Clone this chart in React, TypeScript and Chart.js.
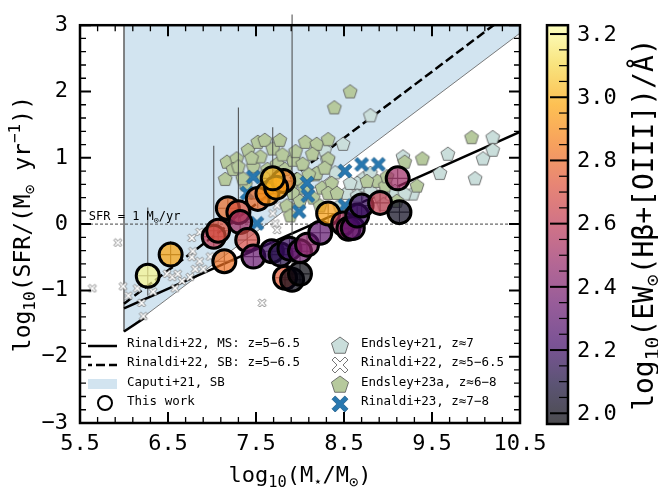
import React, { useEffect, useRef } from 'react';
import { Chart, registerables } from 'chart.js';
Chart.register(...registerables);

const FONT = "'DejaVu Sans Mono', monospace";

// ---------- axes / ticks ----------
const xTickValues = [5.5, 6.5, 7.5, 8.5, 9.5, 10.5];
const yTickValues = [-3, -2, -1, 0, 1, 2, 3];
const yTickLabels = ['−3', '−2', '−1', '0', '1', '2', '3'];
const cbTickValues = [2.0, 2.2, 2.4, 2.6, 2.8, 3.0, 3.2];
const cbTickLabels = ['2.0', '2.2', '2.4', '2.6', '2.8', '3.0', '3.2'];
const cbMin = 1.966;
const cbMax = 3.228;

// ---------- relations ----------
const msLineX = [6.0, 10.5];
const msLineY = [-1.27, 1.39];
const sbLineX = [6.0, 10.5];
const sbLineY = [-1.2, 3.3];
const sbStubX = [6.0, 6.25];
const sbStubY = [-1.62, -1.4];
const caputiX = [6.0, 6.0, 10.5];
const caputiY = [3.5, -1.62, 2.88];
const sfrOneX = [5.5, 10.5];
const sfrOneY = [0, 0];

// ---------- Endsley+21 (pale pentagons) ----------
const paleX = [8.80, 8.49, 8.28, 8.31, 9.17, 9.68, 9.59, 10.19, 10.19, 10.08, 9.99, 9.28, 8.72, 8.80, 8.68, 8.53, 8.65, 8.80, 8.65, 8.91, 9.08, 9.19, 8.45, 8.57, 8.95, 8.40];
const paleY = [1.64, 1.21, 1.12, 0.97, 1.02, 1.06, 0.77, 1.31, 1.12, 0.99, 0.69, 0.46, 0.69, 0.77, 0.58, 0.47, 0.62, 0.50, 0.43, 0.43, 0.50, 0.46, 0.28, 0.62, 0.30, 0.78];

// ---------- Rinaldi+22 (white crosses) ----------
const whiteX = [5.64, 5.93, 5.99, 6.05, 6.20, 6.22, 6.33, 6.15, 6.49, 6.55, 6.61, 6.66, 6.75, 6.81, 6.90, 6.58, 6.77, 6.86, 6.86, 6.78, 6.98, 7.57, 7.69, 7.72, 7.74, 7.74, 6.77];
const whiteY = [-0.97, -0.28, -0.94, -1.08, -1.19, -1.39, -1.02, -0.97, -0.75, -0.80, -0.75, -0.86, -0.80, -0.68, -0.68, -0.97, -0.50, -0.56, -0.12, -0.41, -0.49, -1.19, 0.16, 0.01, -0.09, 0.28, -0.21];

// ---------- Endsley+23a (green pentagons) ----------
const greenX = [7.17, 7.28, 7.24, 7.41, 7.52, 7.60, 7.69, 7.77, 7.47, 7.63, 7.74, 7.83, 7.92, 8.06, 8.19, 8.39, 8.14, 8.03, 8.17, 7.97, 7.89, 8.25, 7.38, 7.64, 7.85, 7.89, 7.35, 7.15, 7.30, 7.55, 8.32, 8.32, 8.19, 8.36, 8.32, 8.15, 7.92, 8.88, 8.97, 8.99, 9.39, 9.95, 9.33, 9.19, 8.42, 8.76, 8.00, 8.23, 9.10, 8.57, 7.95, 8.10, 7.80, 8.05, 8.28, 7.45, 7.58];
const greenY = [0.94, 0.99, 0.83, 1.12, 1.24, 1.27, 1.14, 1.27, 0.87, 0.83, 0.91, 0.83, 0.97, 1.24, 1.21, 1.76, 1.06, 0.91, 0.75, 0.68, 0.55, 0.55, 0.60, 0.55, 0.28, 0.13, 0.69, 0.68, 0.87, 1.02, 1.28, 0.99, 0.77, 0.62, 0.47, 0.40, 0.47, 0.65, 0.58, 0.72, 0.99, 1.31, 0.58, 0.94, 0.47, 0.65, 0.35, 0.28, 0.35, 2.0, 1.10, 0.75, 1.05, 0.55, 0.85, 1.00, 0.72];

// ---------- Rinaldi+23 (blue crosses) ----------
const blueX = [7.47, 7.40, 7.51, 8.08, 8.09, 7.99, 8.51, 8.70, 8.89, 8.51];
const blueY = [0.71, 0.47, 0.01, 0.62, 0.43, 0.19, 0.80, 0.90, 0.90, 0.28];

// ---------- This work ----------
const twX = [6.27, 6.53, 7.14, 7.02, 7.07, 7.18, 7.30, 7.32, 7.40, 7.47, 7.68, 7.78, 7.88, 8.00, 8.08, 8.23, 7.83, 7.91, 8.00, 7.52, 7.63, 7.81, 7.73, 7.69, 8.32, 8.49, 8.55, 8.60, 8.65, 8.70, 8.91, 9.11, 9.13];
const twY = [-0.78, -0.46, -0.56, -0.19, -0.10, 0.24, 0.18, 0.03, -0.24, -0.49, -0.41, -0.46, -0.37, -0.41, -0.31, -0.13, -0.81, -0.84, -0.75, 0.38, 0.46, 0.65, 0.55, 0.69, 0.16, 0.01, -0.07, -0.06, 0.13, 0.28, 0.32, 0.69, 0.18];
const twEW = [3.20, 2.97, 2.82, 2.60, 2.72, 2.80, 2.72, 2.50, 2.68, 2.33, 2.20, 2.12, 2.18, 2.35, 2.45, 2.30, 2.75, 2.00, 1.98, 2.80, 2.92, 2.85, 2.95, 3.02, 2.95, 2.55, 2.45, 2.30, 2.20, 2.18, 2.62, 2.50, 2.02];
const twXErr = [0.13, 0.13, 0.13, 0.13, 0.13, 0.13, 0.13, 0.13, 0.13, 0.13, 0.13, 0.13, 0.13, 0.13, 0.13, 0.13, 0.13, 0.13, 0.13, 0.13, 0.13, 0.13, 0.13, 0.13, 0.13, 0.13, 0.13, 0.13, 0.13, 0.13, 0.13, 0.13, 0.13];
const twYErrLo = [0.30, 0.20, 0.15, 0.15, 0.15, 0.15, 0.15, 0.15, 0.15, 0.15, 0.15, 0.15, 0.15, 0.15, 0.15, 0.15, 0.15, 0.15, 0.15, 0.15, 0.15, 0.15, 0.15, 0.15, 0.15, 0.15, 0.15, 0.15, 0.15, 0.15, 0.15, 0.15, 0.15];
const twYErrHi = [1.03, 0.20, 0.15, 1.37, 0.15, 0.15, 1.58, 0.15, 0.15, 0.15, 0.15, 0.15, 0.15, 0.15, 0.15, 0.15, 0.15, 4.00, 0.15, 0.15, 0.15, 0.15, 0.15, 0.77, 0.15, 0.15, 0.15, 0.15, 0.15, 0.15, 0.15, 0.15, 0.15];

const legendLeft = ['Rinaldi+22, MS: z=5−6.5', 'Rinaldi+22, SB: z=5−6.5', 'Caputi+21, SB', 'This work'];
const legendRight = ['Endsley+21, z≈7', 'Rinaldi+22, z≈5−6.5', 'Endsley+23a, z≈6−8', 'Rinaldi+23, z≈7−8'];

// ---------- colours ----------
const INFERNO = [[0, 0, 4], [22, 11, 57], [66, 10, 104], [106, 23, 110], [147, 38, 103], [188, 55, 84], [221, 81, 58], [243, 120, 25], [252, 165, 10], [246, 215, 70], [252, 255, 164]];
const CB_ALPHA = 0.7;
function inferno(t: number, a: number) {
  const c = Math.max(0, Math.min(1, t)) * 10;
  const i = Math.min(9, Math.floor(c));
  const f = c - i;
  const p = INFERNO[i], q = INFERNO[i + 1];
  const r = Math.round(p[0] + (q[0] - p[0]) * f);
  const g = Math.round(p[1] + (q[1] - p[1]) * f);
  const b = Math.round(p[2] + (q[2] - p[2]) * f);
  return `rgba(${r},${g},${b},${a})`;
}
const ewColor = (v: number) => inferno((v - cbMin) / (cbMax - cbMin), CB_ALPHA);

const PALE = 'rgb(202,222,219)';
const GREEN = 'rgb(182,201,157)';
const BLUE = 'rgb(40,120,176)';
const REGION = 'rgba(31,119,180,0.2)';
const REGION_EDGE = 'rgba(110,110,110,0.9)';

// ---------- marker helpers ----------
function pentPath(ctx: CanvasRenderingContext2D, cx: number, cy: number, r: number) {
  ctx.beginPath();
  for (let k = 0; k < 5; k++) {
    const a = -Math.PI / 2 + (k * 2 * Math.PI) / 5;
    const px = cx + r * Math.cos(a), py = cy + r * Math.sin(a);
    if (k === 0) ctx.moveTo(px, py); else ctx.lineTo(px, py);
  }
  ctx.closePath();
}
function xPath(ctx: CanvasRenderingContext2D, cx: number, cy: number, s: number, d: number) {
  const pts = [[-s, -s + d], [-s + d, -s], [0, -d], [s - d, -s], [s, -s + d], [d, 0], [s, s - d], [s - d, s], [0, d], [-s + d, s], [-s, s - d], [-d, 0]];
  ctx.beginPath();
  pts.forEach((p, i) => { if (i === 0) ctx.moveTo(cx + p[0], cy + p[1]); else ctx.lineTo(cx + p[0], cy + p[1]); });
  ctx.closePath();
}
function drawPent(ctx: CanvasRenderingContext2D, cx: number, cy: number, r: number, fill: string) {
  pentPath(ctx, cx, cy, r);
  ctx.fillStyle = fill; ctx.fill();
  ctx.lineWidth = 0.8; ctx.strokeStyle = '#555'; ctx.stroke();
}
function drawX(ctx: CanvasRenderingContext2D, cx: number, cy: number, s: number, d: number, fill: string, edge: string, lw: number) {
  xPath(ctx, cx, cy, s, d);
  ctx.fillStyle = fill; ctx.fill();
  ctx.lineWidth = lw; ctx.strokeStyle = edge; ctx.stroke();
}
function markerImage(size: number, draw: (ctx: CanvasRenderingContext2D, c: number) => void) {
  const cv = document.createElement('canvas');
  cv.width = size; cv.height = size;
  const ctx = cv.getContext('2d')!;
  draw(ctx, size / 2);
  return cv;
}

type Seg = { t: string; s?: number; dy?: number };
function drawRich(ctx: CanvasRenderingContext2D, segs: Seg[], size: number, x: number, y: number, align: 'left' | 'center') {
  ctx.textBaseline = 'alphabetic';
  ctx.textAlign = 'left';
  let total = 0;
  for (const sg of segs) { ctx.font = `${size * (sg.s || 1)}px ${FONT}`; total += ctx.measureText(sg.t).width; }
  let cx = align === 'center' ? x - total / 2 : x;
  for (const sg of segs) {
    ctx.font = `${size * (sg.s || 1)}px ${FONT}`;
    ctx.fillText(sg.t, cx, y + (sg.dy || 0) * size);
    cx += ctx.measureText(sg.t).width;
  }
}
const SUB = { s: 0.7, dy: 0.22 };
const SUP = { s: 0.7, dy: -0.42 };

const xy = (xs: number[], ys: number[]) => xs.map((x, i) => ({ x, y: ys[i] }));

const decor = {
  id: 'decor',
  beforeDatasetDraw(chart: any, args: any) {
    if (chart.data.datasets[args.index].label !== 'This work') return;
    const { ctx, scales: { x, y } } = chart;
    ctx.save();
    ctx.strokeStyle = 'rgba(70,70,70,0.9)';
    ctx.lineWidth = 1.1;
    for (let i = 0; i < twX.length; i++) {
      const px = x.getPixelForValue(twX[i]);
      const py = y.getPixelForValue(twY[i]);
      ctx.beginPath();
      ctx.moveTo(x.getPixelForValue(twX[i] - twXErr[i]), py);
      ctx.lineTo(x.getPixelForValue(twX[i] + twXErr[i]), py);
      ctx.moveTo(px, y.getPixelForValue(twY[i] - twYErrLo[i]));
      ctx.lineTo(px, y.getPixelForValue(twY[i] + twYErrHi[i]));
      ctx.stroke();
    }
    ctx.restore();
  },
  afterDatasetsDraw(chart: any) {
    const { ctx, chartArea: a, scales: { x, y } } = chart;
    ctx.save();
    ctx.fillStyle = '#000';
    drawRich(ctx, [{ t: 'SFR = 1 M' }, { t: '⊙', ...SUB }, { t: '/yr' }], 12, x.getPixelForValue(5.6), y.getPixelForValue(0) - 4, 'left');
    ctx.strokeStyle = '#000';
    ctx.lineCap = 'butt';
    for (let k = 0; k <= 25; k++) {
      const v = xTickValues[0] + k * 0.2;
      const major = k % 5 === 0;
      const px = x.getPixelForValue(v);
      const len = major ? 11 : 6;
      ctx.lineWidth = major ? 2 : 1.3;
      ctx.beginPath();
      ctx.moveTo(px, a.bottom); ctx.lineTo(px, a.bottom - len);
      ctx.moveTo(px, a.top); ctx.lineTo(px, a.top + len);
      ctx.stroke();
    }
    for (let k = 0; k <= 30; k++) {
      const v = yTickValues[0] + k * 0.2;
      const major = k % 5 === 0;
      const py = y.getPixelForValue(v);
      const len = major ? 11 : 6;
      ctx.lineWidth = major ? 2 : 1.3;
      ctx.beginPath();
      ctx.moveTo(a.left, py); ctx.lineTo(a.left + len, py);
      ctx.moveTo(a.right, py); ctx.lineTo(a.right - len, py);
      ctx.stroke();
    }
    ctx.lineWidth = 2.5;
    ctx.strokeRect(a.left, a.top, a.right - a.left, a.bottom - a.top);
    ctx.restore();
  },
  afterDraw(chart: any) {
    const { ctx, chartArea: a } = chart;
    ctx.save();
    ctx.fillStyle = '#000';
    drawRich(ctx, [{ t: 'log' }, { t: '10', ...SUB }, { t: '(M' }, { t: '⋆', ...SUB }, { t: '/M' }, { t: '⊙', ...SUB }, { t: ')' }], 22, (a.left + a.right) / 2, 482, 'center');
    ctx.save();
    ctx.translate(30, (a.top + a.bottom) / 2);
    ctx.rotate(-Math.PI / 2);
    drawRich(ctx, [{ t: 'log' }, { t: '10', ...SUB }, { t: '(SFR/(M' }, { t: '⊙', ...SUB }, { t: ' yr' }, { t: '−1', ...SUP }, { t: '))' }], 23, 0, 0, 'center');
    ctx.restore();

    // colorbar
    const cx0 = 547, cx1 = 568, ctop = a.top, cbot = a.bottom + 1;
    const cpx = (v: number) => cbot - ((v - cbMin) / (cbMax - cbMin)) * (cbot - ctop);
    ctx.fillStyle = '#fff';
    ctx.fillRect(cx0, ctop, cx1 - cx0, cbot - ctop);
    const grad = ctx.createLinearGradient(0, cbot, 0, ctop);
    for (let k = 0; k <= 20; k++) grad.addColorStop(k / 20, inferno(k / 20, CB_ALPHA));
    ctx.fillStyle = grad;
    ctx.fillRect(cx0, ctop, cx1 - cx0, cbot - ctop);
    ctx.strokeStyle = '#000';
    for (let k = 0; k <= 24; k++) {
      const v = cbTickValues[0] + k * 0.05;
      const major = k % 4 === 0;
      const py = cpx(v);
      ctx.lineWidth = major ? 2 : 1.2;
      ctx.beginPath();
      ctx.moveTo(cx1, py); ctx.lineTo(cx1 - (major ? 18 : 9), py);
      ctx.stroke();
    }
    ctx.lineWidth = 2.5;
    ctx.strokeRect(cx0, ctop, cx1 - cx0, cbot - ctop);
    ctx.fillStyle = '#000';
    ctx.font = `22px ${FONT}`;
    ctx.textAlign = 'left';
    ctx.textBaseline = 'middle';
    cbTickValues.forEach((v, i) => ctx.fillText(cbTickLabels[i], 577, cpx(v) + 1));
    ctx.save();
    ctx.translate(653, (ctop + cbot) / 2);
    ctx.rotate(-Math.PI / 2);
    drawRich(ctx, [{ t: 'log' }, { t: '10', ...SUB }, { t: '(EW' }, { t: '⊙', ...SUB }, { t: '(Hβ+[OIII])/Å)' }], 28, 0, 0, 'center');
    ctx.restore();

    // legend
    const rows = [a.bottom - 79, a.bottom - 60, a.bottom - 40, a.bottom - 21];
    const hx0 = a.left + 8, hx1 = a.left + 37, tx = a.left + 47;
    ctx.strokeStyle = '#000';
    ctx.lineWidth = 2.5;
    ctx.beginPath(); ctx.moveTo(hx0, rows[0] + 2); ctx.lineTo(hx1, rows[0] + 2); ctx.stroke();
    ctx.setLineDash([9, 4]);
    ctx.lineDashOffset = 5;
    ctx.beginPath(); ctx.moveTo(hx0, rows[1] + 2); ctx.lineTo(hx1, rows[1] + 2); ctx.stroke();
    ctx.setLineDash([]);
    ctx.fillStyle = REGION;
    ctx.fillRect(hx0, rows[2] - 4, hx1 - hx0, 10);
    ctx.beginPath(); ctx.arc(a.left + 25, rows[3] + 1, 7, 0, Math.PI * 2);
    ctx.lineWidth = 2; ctx.stroke();
    const rx = a.left + 260, rtx = a.left + 281;
    drawPent(ctx, rx, rows[0] + 2, 9, PALE);
    drawX(ctx, rx, rows[1] + 2, 8, 3, '#fff', '#666', 0.9);
    drawPent(ctx, rx, rows[2] + 2, 9, GREEN);
    drawX(ctx, rx, rows[3] + 2, 8, 3.2, BLUE, '#1d5a86', 0.8);
    ctx.fillStyle = '#000';
    ctx.font = `12.5px ${FONT}`;
    ctx.textAlign = 'left';
    ctx.textBaseline = 'middle';
    legendLeft.forEach((t, i) => ctx.fillText(t, tx, rows[i]));
    legendRight.forEach((t, i) => ctx.fillText(t, rtx, rows[i]));
    ctx.restore();
  },
};

export default function App() {
  const ref = useRef<HTMLCanvasElement>(null);
  useEffect(() => {
    const canvas = ref.current!;
    const paleImg = markerImage(18, (c, m) => drawPent(c, m, m + 0.5, 7.3, PALE));
    const greenImg = markerImage(18, (c, m) => drawPent(c, m, m + 0.5, 7.3, GREEN));
    const blueImg = markerImage(18, (c, m) => drawX(c, m, m, 7, 2.7, BLUE, '#1d5a86', 0.8));
    const whiteImg = markerImage(12, (c, m) => drawX(c, m, m, 4, 1.6, '#fff', '#666', 0.8));

    const lineDs = (label: string, xs: number[], ys: number[], extra: any) => ({
      type: 'line', label, data: xy(xs, ys), pointRadius: 0, fill: false, tension: 0, ...extra,
    });

    const chart = new Chart(canvas, {
      type: 'scatter',
      data: {
        datasets: [
          { label: 'This work', data: xy(twX, twY), pointStyle: 'circle', pointRadius: 11.5, pointBackgroundColor: twEW.map(ewColor), pointBorderColor: '#000', pointBorderWidth: 3, order: 0 },
          { label: legendRight[3], data: xy(blueX, blueY), pointStyle: blueImg, order: 1 },
          { label: legendRight[2], data: xy(greenX, greenY), pointStyle: greenImg, order: 2 },
          { label: legendRight[1], data: xy(whiteX, whiteY), pointStyle: whiteImg, order: 3 },
          { label: legendRight[0], data: xy(paleX, paleY), pointStyle: paleImg, order: 4 },
          lineDs(legendLeft[0], msLineX, msLineY, { borderColor: '#000', borderWidth: 2.5, order: 5 }),
          lineDs(legendLeft[1], sbLineX, sbLineY, { borderColor: '#000', borderWidth: 2.5, borderDash: [9, 4], order: 5 }),
          lineDs('SB stub', sbStubX, sbStubY, { borderColor: '#000', borderWidth: 2.5, order: 5 }),
          lineDs('SFR = 1', sfrOneX, sfrOneY, { borderColor: '#444', borderWidth: 1, borderDash: [3, 2], order: 6 }),
          lineDs(legendLeft[2], caputiX, caputiY, { borderColor: REGION_EDGE, borderWidth: 1, backgroundColor: REGION, fill: 'end', order: 7 }),
        ] as any,
      },
      options: {
        animation: false,
        responsive: false,
        events: [],
        layout: { padding: { left: 0, right: 138, top: 16, bottom: 0 } },
        plugins: { legend: { display: false }, tooltip: { enabled: false } },
        scales: {
          x: {
            type: 'linear', min: 5.5, max: 10.5,
            afterBuildTicks: (s: any) => { s.ticks = xTickValues.map((v) => ({ value: v })); },
            afterFit: (s: any) => { s.height = 66; },
            grid: { display: false, drawTicks: false },
            border: { display: false },
            ticks: { font: { family: FONT, size: 22 }, color: '#000', padding: 8, maxRotation: 0, autoSkip: false, callback: (v: any) => Number(v).toFixed(1) },
          },
          y: {
            type: 'linear', min: -3, max: 3,
            afterBuildTicks: (s: any) => { s.ticks = yTickValues.map((v) => ({ value: v })); },
            afterFit: (s: any) => { s.width = 80; },
            grid: { display: false, drawTicks: false },
            border: { display: false },
            ticks: { font: { family: FONT, size: 22 }, color: '#000', padding: 12, autoSkip: false, callback: (v: any) => yTickLabels[yTickValues.indexOf(Number(v))] },
          },
        },
      } as any,
      plugins: [decor as any],
    });
    return () => chart.destroy();
  }, []);
  return (
    <div style={{ position: 'absolute', left: 0, top: 0, width: 658, height: 489, background: '#fff' }}>
      <canvas ref={ref} width={658} height={489} style={{ width: 658, height: 489, display: 'block' }} />
    </div>
  );
}
